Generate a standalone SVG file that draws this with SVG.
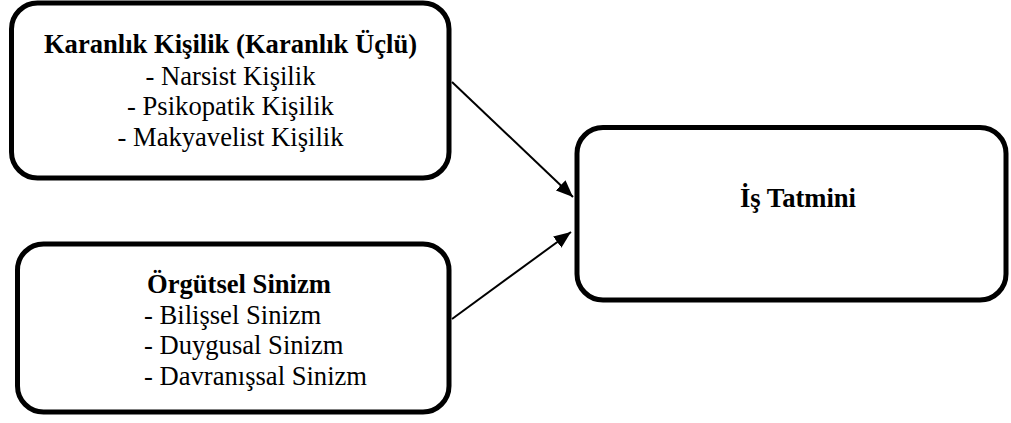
<svg xmlns="http://www.w3.org/2000/svg" width="1011" height="423" viewBox="0 0 1011 423">
<style>
.box{fill:#fff;stroke:#000;stroke-width:5}
text{font-family:'Liberation Serif','Times New Roman','DejaVu Serif',serif;font-size:26.6px;fill:#000}
.b{font-weight:bold}
.c{text-anchor:middle}
.conn{stroke:#000;stroke-width:2;fill:none}
</style>
<defs>
<marker id="ah" markerUnits="userSpaceOnUse" markerWidth="18" markerHeight="14" refX="17" refY="7" orient="auto">
<path d="M0,0 L17,7 L0,14 z" fill="#000"/>
</marker>
</defs>
<rect width="1011" height="423" fill="#fff"/>
<g id="connectors">
<line class="conn" x1="452" y1="82" x2="573" y2="197" marker-end="url(#ah)"/>
<line class="conn" x1="452" y1="319" x2="571" y2="232" marker-end="url(#ah)"/>
</g>
<g id="node-karanlik" font-family="Liberation Serif, Times New Roman, serif">
<rect class="box" x="11.5" y="3" width="437.5" height="175" rx="26" ry="26"/>
<text class="b c" x="230.5" y="53">Karanlık Kişilik (Karanlık Üçlü)</text>
<text class="c" x="230.5" y="84.5">- Narsist Kişilik</text>
<text class="c" x="230.5" y="115">- Psikopatik Kişilik</text>
<text class="c" x="230.5" y="145.5">- Makyavelist Kişilik</text>
</g>
<g id="node-sinizm" font-family="Liberation Serif, Times New Roman, serif">
<rect class="box" x="17.5" y="244" width="431.5" height="168" rx="26" ry="26"/>
<text class="b" x="147" y="293">Örgütsel Sinizm</text>
<text x="144" y="323.5">- Bilişsel Sinizm</text>
<text x="144" y="354">- Duygusal Sinizm</text>
<text x="144" y="385">- Davranışsal Sinizm</text>
</g>
<g id="node-tatmin" font-family="Liberation Serif, Times New Roman, serif">
<rect class="box" x="577" y="127.5" width="429" height="172.5" rx="26" ry="26"/>
<text class="b c" x="798" y="207">İş Tatmini</text>
</g>
</svg>
